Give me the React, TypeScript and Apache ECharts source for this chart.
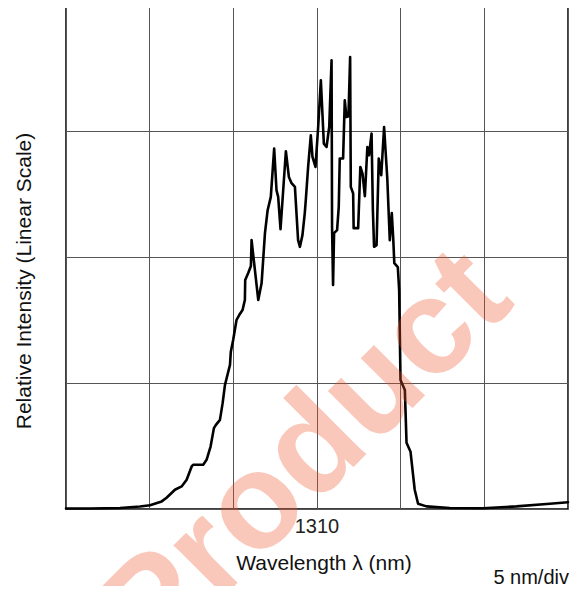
import React, { useEffect, useRef } from "react";
import * as echarts from "echarts";

// Wavelength (nm) and relative intensity (0-100, 25 per division)
const wavelength = [
  1295.0, 1296.43, 1298.23, 1299.42, 1300.02, 1300.72, 1301.01, 1301.51, 1301.91, 1302.21,
  1302.51, 1302.6, 1303.2, 1303.4, 1303.64, 1303.84, 1303.96, 1304.2, 1304.36, 1304.5,
  1304.6, 1304.8, 1304.85, 1304.99, 1305.19, 1305.35, 1305.55, 1305.69, 1305.71, 1305.89,
  1306.05, 1306.09, 1306.19, 1306.49, 1306.69, 1306.89, 1307.05, 1307.24, 1307.44, 1307.58,
  1307.68, 1307.82, 1307.98, 1308.14, 1308.32, 1308.48, 1308.68, 1308.87, 1308.98, 1309.13,
  1309.27, 1309.33, 1309.47, 1309.63, 1309.73, 1309.91, 1310.07, 1310.23, 1310.41, 1310.57,
  1310.73, 1310.87, 1310.9, 1310.96, 1311.02, 1311.2, 1311.3, 1311.36, 1311.56, 1311.66,
  1311.76, 1311.88, 1311.98, 1312.02, 1312.16, 1312.19, 1312.46, 1312.59, 1312.72, 1312.86,
  1313.01, 1313.11, 1313.26, 1313.34, 1313.41, 1313.56, 1313.69, 1313.84, 1314.01, 1314.2,
  1314.35, 1314.47, 1314.56, 1314.62, 1314.83, 1314.91, 1314.99, 1315.25, 1315.35, 1315.59,
  1315.84, 1316.04, 1316.54, 1317.93, 1319.91, 1321.92, 1323.91, 1325.0,
];
const intensity = [
  0.1, 0.1, 0.2, 0.5, 0.75, 1.51, 2.24, 3.82, 4.48, 5.8,
  8.44, 8.78, 8.78, 9.77, 12.4, 16.05, 16.7, 17.69, 21.0, 24.62,
  25.95, 28.59, 31.22, 33.54, 37.5, 38.49, 39.48, 41.46, 45.42, 46.81,
  48.2, 53.35, 50.38, 41.46, 44.83, 54.74, 59.29, 61.93, 71.51, 63.25,
  61.93, 55.53, 63.25, 70.98, 65.89, 64.64, 63.91, 53.35, 52.02, 54.34,
  58.7, 61.27, 67.87, 74.15, 69.85, 67.87, 75.79, 85.04, 72.5, 71.83,
  75.79, 89.01, 55.98, 44.43, 54.74, 55.33, 59.94, 69.53, 69.53, 81.08,
  77.77, 77.91, 89.66, 63.91, 62.6, 55.73, 55.73, 67.87, 66.56, 62.06,
  71.83, 70.19, 74.49, 59.29, 52.02, 52.36, 69.53, 66.23, 75.79, 65.63,
  53.35, 58.7, 53.35, 48.79, 48.0, 43.44, 25.61, 23.63, 13.13, 11.35,
  3.82, 1.05, 0.52, 0.2, 0.16, 0.52, 1.05, 1.35,
];
const xTickLabels = ["1310"];
const xAxisTitle = "Wavelength λ (nm)";
const yAxisTitle = "Relative Intensity (Linear Scale)";
const scaleNote = "5 nm/div";
const watermark = "Product";

export default function App() {
  const ref = useRef<HTMLDivElement>(null);
  useEffect(() => {
    if (!ref.current) return;
    const chart = echarts.init(ref.current, undefined, { renderer: "svg" });
    const data = wavelength.map((w, i) => [w, intensity[i]]);
    const font = "'Liberation Sans', Arial, sans-serif";
    chart.setOption({
      animation: false,
      backgroundColor: "#fff",
      grid: {
        left: 66,
        right: 19,
        top: 5,
        bottom: 85,
        show: true,
        borderColor: "#000",
        borderWidth: 1.5,
        backgroundColor: "transparent",
      },
      xAxis: {
        type: "value",
        min: 1295,
        max: 1325,
        interval: 5,
        axisLine: { show: false },
        axisTick: { show: false },
        splitLine: { show: true, lineStyle: { color: "#555", width: 1 } },
        axisLabel: {
          show: true,
          margin: 7,
          fontSize: 20,
          fontFamily: font,
          color: "#222",
          formatter: (v: number) => (xTickLabels.includes(String(v)) ? String(v) : ""),
        },
      },
      yAxis: {
        type: "value",
        min: 0,
        max: 100,
        interval: 25,
        axisLine: { show: false },
        axisTick: { show: false },
        axisLabel: { show: false },
        splitLine: { show: true, lineStyle: { color: "#555", width: 1 } },
      },
      series: [
        {
          type: "line",
          data,
          showSymbol: false,
          symbol: "none",
          lineStyle: { color: "#000", width: 2.6, join: "round", cap: "round" },
          z: 3,
        },
      ],
      graphic: [
        {
          type: "text",
          x: 23,
          y: 281,
          rotation: Math.PI / 2,
          style: {
            text: yAxisTitle,
            font: `21px ${font}`,
            fill: "#111",
            textAlign: "center",
            textVerticalAlign: "middle",
          },
        },
        {
          type: "text",
          x: 324,
          y: 562,
          style: {
            text: xAxisTitle,
            font: `21px ${font}`,
            fill: "#111",
            textAlign: "center",
            textVerticalAlign: "middle",
          },
        },
        {
          type: "text",
          x: 569,
          y: 577,
          style: {
            text: scaleNote,
            font: `20px ${font}`,
            fill: "#111",
            textAlign: "right",
            textVerticalAlign: "middle",
          },
        },
        {
          type: "text",
          x: 302,
          y: 452,
          rotation: Math.PI / 4,
          silent: true,
          z: 100,
          style: {
            text: watermark,
            font: `bold 136px ${font}`,
            fill: "rgba(238, 80, 45, 0.32)",
            textAlign: "center",
            textVerticalAlign: "middle",
          },
        },
      ],
    });
    return () => chart.dispose();
  }, []);
  return <div ref={ref} style={{ width: 587, height: 594, margin: -8 }} />;
}
